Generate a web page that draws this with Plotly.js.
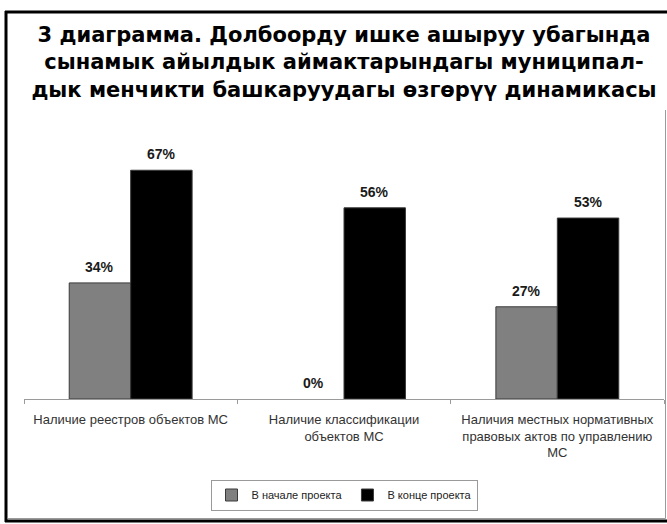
<!DOCTYPE html>
<html>
<head>
<meta charset="utf-8">
<script src="https://cdn.plot.ly/plotly-3.0.1.min.js"></script>
<style>
  html, body { margin: 0; padding: 0; background: #fff; }
  #chart { width: 667px; height: 524px; }
</style>
</head>
<body>
<div id="chart"></div>
<script>
var categories = [
  "Наличие реестров объектов МС",
  "Наличие классификации<br>объектов МС",
  "Наличия местных нормативных<br>правовых актов по управлению<br>МС"
];
var seriesNames = ["В начале проекта", "В конце проекта"];
var startValues = [34, 0, 27];
var endValues = [67, 56, 53];
var titleText = "3 диаграмма. Долбоорду ишке ашыруу убагында<br>сынамык айылдык аймактарындагы муниципал-<br>дык менчикти башкаруудагы өзгөрүү динамикасы";

var W = 667, H = 524;
var M = {l: 24, r: 3, t: 160, b: 125};
var pw = W - M.l - M.r, ph = H - M.t - M.b;
function px2x(px) { return (px - M.l) / pw; }
function py2y(py) { return 1 - (py - M.t) / ph; }

var traces = [
  {
    type: "bar", name: seriesNames[0], x: categories, y: startValues,
    marker: {color: "#808080", line: {color: "#3a3a3a", width: startValues.map(function (v) { return v > 0 ? 1 : 0; })}},
    hoverinfo: "none"
  },
  {
    type: "bar", name: seriesNames[1], x: categories, y: endValues,
    marker: {color: "#000000", line: {color: "#3a3a3a", width: 1}},
    hoverinfo: "none"
  }
];

var annotations = [];
var groupHalf = (1 - 0.424) / 2;
var series = [startValues, endValues];
series.forEach(function (vals, s) {
  vals.forEach(function (v, i) {
    annotations.push({
      x: categories[i], y: v, xref: "x", yref: "y",
      text: v + "%", showarrow: false,
      xshift: (s === 0 ? -1 : 1) * (pw / categories.length) * groupHalf / 2,
      yshift: 16, yanchor: "middle",
      font: {family: "Liberation Sans, Arial, sans-serif", size: 14, color: "#1a1a1a", weight: "bold"}
    });
  });
});

var shapes = [
  {type: "line", xref: "paper", yref: "paper", x0: px2x(6), x1: px2x(6), y0: py2y(11), y1: py2y(522), line: {color: "#000", width: 3}},
  {type: "line", xref: "paper", yref: "paper", x0: px2x(5), x1: px2x(672), y0: py2y(12), y1: py2y(12), line: {color: "#000", width: 3}},
  {type: "line", xref: "paper", yref: "paper", x0: px2x(5), x1: px2x(672), y0: py2y(521), y1: py2y(521), line: {color: "#000", width: 3}},
  {type: "line", xref: "paper", yref: "paper", x0: px2x(665.5), x1: px2x(665.5), y0: py2y(110), y1: py2y(518.5), line: {color: "#9a9a9a", width: 1}},
  {type: "line", xref: "paper", yref: "paper", x0: px2x(8), x1: px2x(665.5), y0: py2y(518.5), y1: py2y(518.5), line: {color: "#9a9a9a", width: 1}}
];

var layout = {
  width: W, height: H,
  margin: M,
  paper_bgcolor: "#fff", plot_bgcolor: "#fff",
  showlegend: true,
  barmode: "group", bargap: 0.424, bargroupgap: 0,
  title: {
    text: titleText,
    x: 0.5, xref: "paper", xanchor: "center",
    y: 1 - 42 / H, yref: "container", yanchor: "top",
    font: {family: "DejaVu Sans, Verdana, sans-serif", size: 21, color: "#000", weight: "bold"}
  },
  xaxis: {
    type: "category",
    showline: true, linecolor: "#9a9a9a", linewidth: 1,
    ticks: "outside", tickson: "boundaries", ticklen: 4, tickcolor: "#9a9a9a",
    ticklabelstandoff: 8,
    showgrid: false, zeroline: false,
    tickfont: {family: "Liberation Sans, Arial, sans-serif", size: 13, color: "#333"},
    fixedrange: true
  },
  yaxis: {
    range: [0, 70], visible: false, showgrid: false, zeroline: false, fixedrange: true
  },
  legend: {
    orientation: "h", x: 0.5, xanchor: "center", xref: "paper",
    y: py2y(495), yanchor: "middle",
    bordercolor: "#9a9a9a", borderwidth: 1, bgcolor: "#fff",
    font: {family: "Liberation Sans, Arial, sans-serif", size: 11, color: "#222"},
    itemwidth: 30, traceorder: "normal"
  },
  annotations: annotations,
  shapes: shapes
};

Plotly.newPlot("chart", traces, layout, {displayModeBar: false, staticPlot: true});
</script>
</body>
</html>
